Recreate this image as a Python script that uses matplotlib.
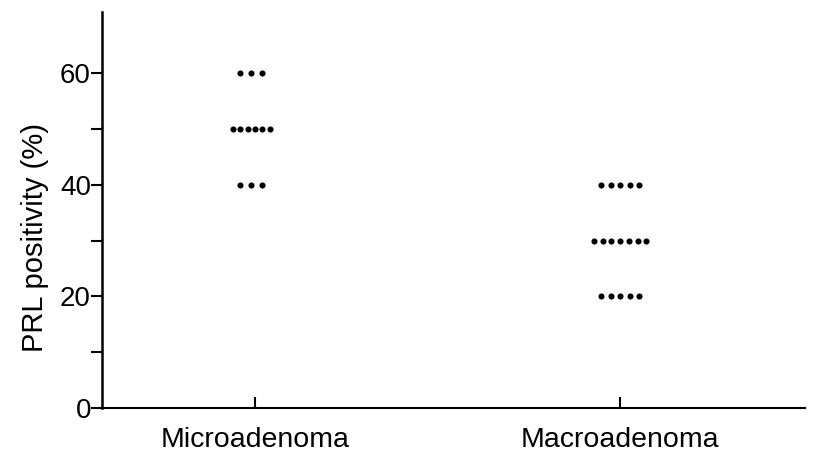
import matplotlib
matplotlib.use("Agg")
import matplotlib.pyplot as plt
import numpy as np

categories = ["Microadenoma", "Macroadenoma"]
micro_values = [60, 60, 60, 50, 50, 50, 50, 50, 50, 40, 40, 40]
macro_values = [40, 40, 40, 40, 40, 30, 30, 30, 30, 30, 30, 30, 20, 20, 20, 20, 20]
y_ticks = [0, 20, 40, 60]

plt.rcParams['font.family'] = ['Liberation Sans', 'DejaVu Sans']

fig = plt.figure(figsize=(8.14, 4.54), dpi=100)
ax = fig.add_axes([0.1253, 0.1013, 0.864, 0.872])

def scatter_group(ax, xc, values, spacing_by_n):
    vals = np.array(values)
    for v in np.unique(vals):
        n = int((vals == v).sum())
        sp = spacing_by_n(n)
        offs = (np.arange(n) - (n - 1) / 2) * sp
        ax.plot(xc + offs, [v] * n, 'o', color='black', markersize=4.4, markeredgewidth=0)

scatter_group(ax, 0.99, micro_values, lambda n: 0.030 if n <= 3 else 0.020)
scatter_group(ax, 2, macro_values, lambda n: 0.026 if n <= 5 else 0.024)

ax.set_xlim(0.581, 2.507)
ax.set_ylim(0, 71)
ax.spines['top'].set_visible(False)
ax.spines['right'].set_visible(False)
ax.spines['left'].set_linewidth(1.8)
ax.spines['bottom'].set_linewidth(1.5)

ax.set_xticks([1, 2])
ax.set_xticklabels(categories, fontsize=20.5)
ax.tick_params(axis='x', direction='in', length=8, width=1.5, pad=14)
ax.set_yticks(y_ticks)
ax.set_yticks([10, 30, 50], minor=True)
ax.tick_params(axis='y', which='both', direction='out', length=8, width=1.5, labelsize=20, pad=0)
ax.set_ylabel("PRL positivity (%)", fontsize=21)
ax.yaxis.set_label_coords(-0.076, 0.43)

fig.savefig("out.png", dpi=100, facecolor='white')
